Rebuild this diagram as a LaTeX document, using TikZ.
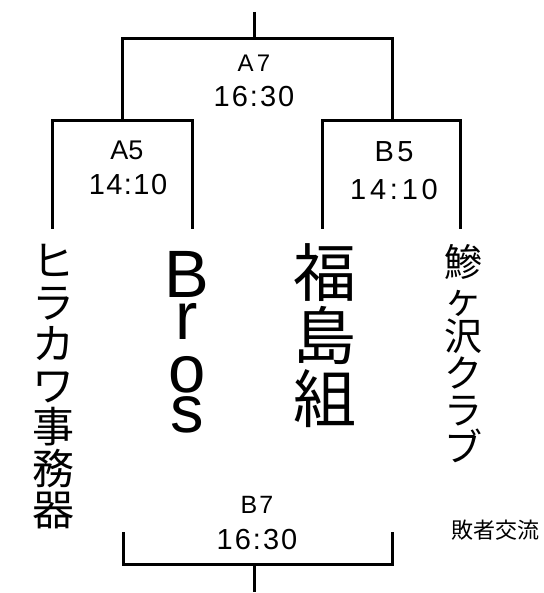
\documentclass[tikz,border=0pt]{standalone}
\usepackage{fontspec}
\setmainfont{Liberation Sans}
\newfontfamily\jpfont{Noto Sans CJK JP}

\begin{document}
\begin{tikzpicture}[x=1pt,y=-1pt]
			\tikzset{bracket/.style = {line width=3pt}}
			\tikzset{match/.style = {inner sep=0, font=\fontsize{#1}{#1}\selectfont}}
			\tikzset{team/.style = {inner sep=0, align=center}}
			\useasboundingbox (0,0) rectangle (543,593);
			% bracket points
			\coordinate (final) at (254,12);
			\coordinate (a7top) at (254,39);
			\coordinate (a5top) at (122,121);
			\coordinate (b5top) at (392,121);
			\coordinate (a5l) at (52,229);
			\coordinate (a5r) at (192,229);
			\coordinate (b5l) at (322,229);
			\coordinate (b5r) at (460,229);
			\coordinate (b7l) at (123,532);
			\coordinate (b7r) at (392,532);
			\coordinate (b7mid) at (254,564);
			\coordinate (b7out) at (254,592);
			% brackets
			\draw[bracket] (final) -- (a7top);
			\draw[bracket] (a5top) |- (a7top) -| (b5top);
			\draw[bracket] (a5l) |- (a5top) -| (a5r);
			\draw[bracket] (b5l) |- (b5top) -| (b5r);
			\draw[bracket] (b7l) |- (b7mid) -| (b7r);
			\draw[bracket] (b7mid) -- (b7out);
			% matches
			\node[match=24] (a7) at (254,63) {\addfontfeatures{LetterSpace=14}A7};
			\node[match=29] (a7time) at (254,97) {\addfontfeatures{LetterSpace=7}16:30};
			\node[match=27] (a5) at (127,150) {A5};
			\node[match=29] (a5time) at (128,185) {\addfontfeatures{LetterSpace=5}14:10};
			\node[match=29] (b5) at (394,152) {\addfontfeatures{LetterSpace=12}B5};
			\node[match=29] (b5time) at (394,190) {\addfontfeatures{LetterSpace=13}14:10};
			\node[match=25] (b7) at (257,505) {\addfontfeatures{LetterSpace=8}B7};
			\node[match=29] (b7time) at (257,540) {\addfontfeatures{LetterSpace=7}16:30};
			% teams
			\node[team, font=\jpfont\fontsize{42}{41.5}\selectfont] (hirakawa) at (53,387)
				{ヒ\\ラ\\カ\\ワ\\事\\務\\器};
			\node[team, font=\fontsize{67}{42}\selectfont] (bros) at (187,342)
				{B\\r\\[11pt]o\\[-2pt]s};
			\node[team, font=\jpfont\fontsize{63}{63}\selectfont] (fukushima) at (325,336)
				{福\\島\\組};
			\node[team, font=\jpfont\fontsize{38}{37}\selectfont] (ajigasawa) at (463,354)
				{鰺\\ヶ\\沢\\ク\\ラ\\ブ};
			\node[inner sep=0, font=\jpfont\fontsize{22}{22}\selectfont] (loser) at (495,530) {敗者交流};
		\end{tikzpicture}
\end{document}
